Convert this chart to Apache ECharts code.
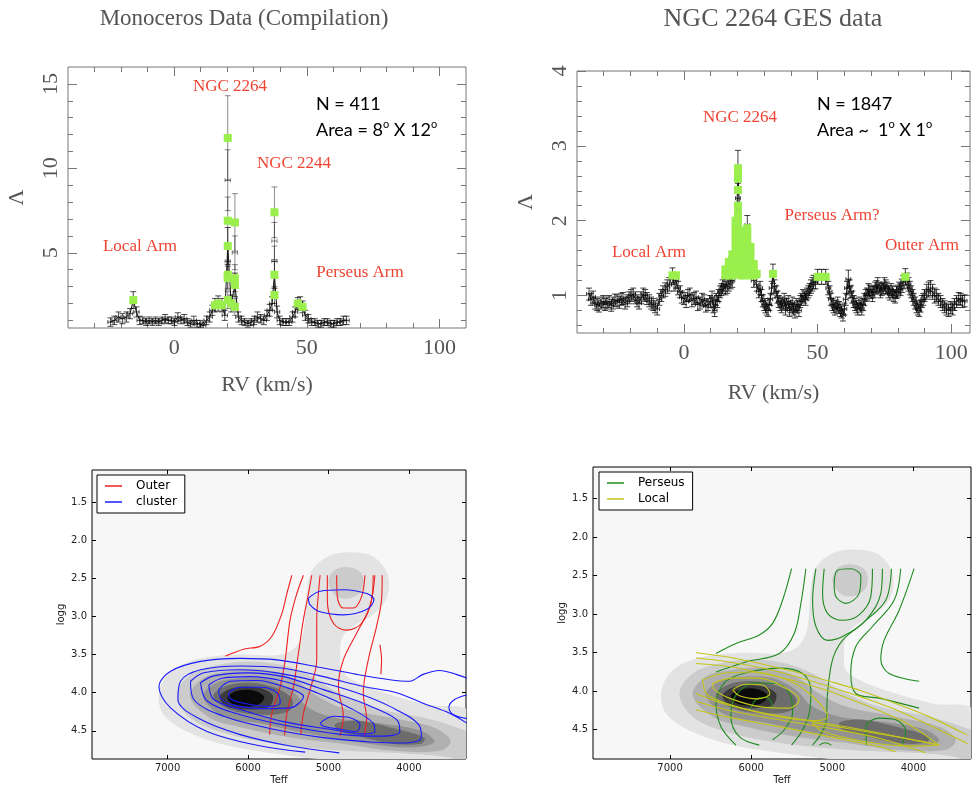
<!DOCTYPE html>
<html><head><meta charset="utf-8">
<script src="https://cdn.jsdelivr.net/npm/echarts@6/dist/echarts.min.js"></script>
<style>html,body{margin:0;padding:0;background:#fff}#c{width:972px;height:787px}</style>
</head><body><div id="c"></div>
<script>
// ---------------- Top-left: Monoceros compilation  [RV, Lambda, err] ----------------
const tlPoints = [[-24,0.9,0.25],[-22.5,1.0,0.25],[-21,1.2,0.3],[-19.5,1.1,0.3],[-18,1.2,0.3],[-16.6,1.4,0.3],[-15.4,2.2,0.5],[-14.2,1.5,0.3],[-13,1.0,0.25],[-11.8,1.0,0.2],[-10.6,0.9,0.2],[-9.4,1.0,0.2],[-8.2,0.9,0.2],[-7,1.0,0.2],[-5.8,0.9,0.2],[-4.6,1.0,0.2],[-3.4,1.1,0.25],[-2.2,1.0,0.2],[-1,1.0,0.2],[0.2,0.9,0.2],[1.4,1.2,0.25],[2.6,1.0,0.2],[3.8,1.1,0.25],[5,0.9,0.2],[6.2,0.8,0.2],[7.4,1.0,0.25],[8.6,0.8,0.2],[9.8,0.8,0.2],[11,0.7,0.2],[12.2,1.0,0.25],[13.4,1.2,0.3],[14.4,1.6,0.3],[15.4,1.9,0.4],[16.6,2.0,0.45],[18,1.9,0.4],[19.1,1.3,0.3],[20.2,5.4,1.1],[21.5,2.0,0.5],[22.9,3.1,0.7],[24.2,1.2,0.3],[25.4,1.0,0.25],[26.6,0.9,0.2],[27.8,0.8,0.2],[29,0.9,0.2],[30.2,1.0,0.25],[31.4,1.2,0.3],[32.6,1.1,0.25],[33.8,1.0,0.25],[35,1.3,0.3],[36,1.6,0.35],[36.9,2.0,0.4],[37.8,3.7,0.8],[38.8,1.5,0.35],[39.8,1.0,0.25],[41,0.9,0.2],[42.2,0.9,0.2],[43.4,0.9,0.2],[44.6,1.2,0.3],[45.6,1.5,0.3],[46.6,2.0,0.35],[47.5,2.0,0.4],[48.4,1.8,0.35],[49.4,1.3,0.3],[50.6,1.1,0.25],[51.8,0.9,0.2],[53,0.9,0.2],[54.2,0.8,0.2],[55.4,0.8,0.2],[56.6,0.9,0.2],[57.8,0.9,0.2],[59,0.8,0.2],[60.2,0.8,0.2],[61.4,0.9,0.2],[62.6,0.9,0.2],[63.8,1.0,0.25],[65,1.0,0.25]];
const tlSpikes = [[20.2,11.8,2.5],[20.2,9.3,1.8],[20.2,6.9,1.4],[20.2,4.5,0.9],[20.2,3.7,0.8],[20.2,3.5,0.7],[20.2,2.2,0.5],[22.9,6.8,1.7],[22.9,5.0,1.0],[22.9,3.5,0.8],[22.9,1.8,0.5],[37.8,7.4,1.5],[37.8,5.7,1.1],[37.8,4.5,0.9],[37.8,2.5,0.5]];
const tlGreen = [[-15.4,2.2],[15.4,1.9],[16.6,2.0],[18,1.9],[20.2,11.8],[20.2,6.9],[20.2,5.4],[20.2,3.7],[20.2,3.5],[20.2,2.2],[21.5,2.0],[22.9,6.8],[22.9,3.5],[22.9,3.1],[22.9,1.8],[37.8,7.4],[37.8,3.7],[37.8,2.5],[46.6,2.0],[48.4,1.8]];
const tlXMajor = [0,50,100];
const tlXMinor = [-30,-20,-10,0,10,20,30,40,50,60,70,80,90,100];
const tlYMajor = [5,10,15];
const tlYMinor = [1,2,3,4,5,6,7,8,9,10,11,12,13,14,15];

// ---------------- Top-right: NGC 2264 GES  [RV, Lambda, err] ----------------
const trPoints = [[-35.5,1.02,0.08],[-34,0.98,0.08],[-32.5,0.88,0.08],[-31,0.90,0.08],[-29.5,0.88,0.08],[-28,0.92,0.08],[-26.5,0.90,0.08],[-25,0.93,0.08],[-23.5,0.95,0.08],[-22,0.90,0.08],[-20.5,0.97,0.08],[-19,1.02,0.08],[-17.5,0.93,0.08],[-16,0.97,0.08],[-14.5,1.00,0.08],[-13,0.93,0.08],[-11.5,0.88,0.08],[-10,0.82,0.08],[-8.5,1.00,0.08],[-7,1.08,0.09],[-5.5,1.15,0.09],[-4.3,1.27,0.1],[-3,1.20,0.1],[-1.5,1.05,0.08],[0,0.96,0.08],[1.5,1.00,0.08],[3,0.93,0.08],[4.5,0.98,0.08],[6,0.90,0.08],[7.5,0.93,0.08],[9,0.88,0.08],[10.5,0.98,0.08],[11.5,0.80,0.08],[12.5,0.92,0.08],[13.5,1.05,0.08],[14.5,1.12,0.09],[15.5,1.10,0.09],[16.8,1.15,0.09],[18.1,1.20,0.09],[19.3,1.35,0.1],[20.2,2.72,0.22],[21.3,1.60,0.1],[22.5,1.50,0.1],[23.7,1.94,0.13],[24.9,1.40,0.1],[26.1,1.20,0.09],[27.2,1.15,0.09],[28.5,1.10,0.09],[29.5,0.93,0.08],[30.5,0.85,0.08],[31.5,0.80,0.08],[32.3,0.95,0.08],[33.3,1.29,0.13],[34.5,1.05,0.08],[35.5,0.92,0.08],[36.5,0.85,0.08],[37.5,0.95,0.08],[38.5,0.88,0.08],[39.5,0.80,0.08],[40.5,0.90,0.08],[41.5,0.78,0.08],[42.5,0.85,0.08],[43.5,0.92,0.08],[44.5,1.00,0.08],[45.5,0.95,0.08],[46.5,1.05,0.08],[47.5,1.12,0.09],[48.5,1.18,0.09],[50,1.25,0.1],[51.5,1.25,0.1],[53,1.25,0.1],[54.5,1.05,0.08],[55.5,0.88,0.08],[56.5,0.82,0.08],[57.5,0.90,0.08],[58.5,0.80,0.08],[59.5,0.74,0.08],[60.5,0.95,0.08],[61.5,1.22,0.12],[62.5,1.05,0.08],[63.5,0.92,0.08],[64.5,0.85,0.08],[65.5,0.90,0.08],[66.5,0.82,0.08],[67.5,0.95,0.08],[68.5,1.02,0.08],[69.5,1.06,0.08],[70.5,1.00,0.08],[71.5,1.10,0.08],[72.5,1.15,0.09],[73.5,1.05,0.08],[74.5,1.10,0.08],[75.5,1.12,0.09],[76.5,1.05,0.08],[77.5,1.08,0.08],[78.5,1.00,0.08],[79.5,1.04,0.08],[80.5,1.10,0.08],[81.5,1.13,0.09],[82.8,1.25,0.11],[84,1.15,0.09],[85,1.05,0.08],[86,0.95,0.08],[87,0.85,0.08],[88,0.80,0.08],[89,0.92,0.08],[90,1.00,0.08],[91.5,1.08,0.1],[93,1.05,0.1],[94.5,1.00,0.08],[96,0.92,0.08],[97.5,0.85,0.08],[99,0.80,0.08],[100.5,0.82,0.08],[102,0.92,0.08],[103.5,0.95,0.08],[105,0.93,0.08]];
const trPointsMid = [[-34.8,0.95,0.08],[-33.2,0.90,0.08],[-31.8,0.86,0.08],[-30.2,0.92,0.08],[-28.8,0.90,0.08],[-27.2,0.87,0.08],[-25.8,0.94,0.08],[-24.2,0.91,0.08],[-22.8,0.96,0.08],[-21.2,0.93,0.08],[-19.8,1.0,0.08],[-18.2,0.97,0.08],[-16.8,0.90,0.08],[-15.2,1.02,0.08],[-13.8,0.96,0.08],[-12.2,0.90,0.08],[-10.8,0.85,0.08],[-9.2,0.95,0.08],[-7.8,1.05,0.08],[-6.2,1.12,0.09],[-3.7,1.15,0.09],[-2.2,1.1,0.09],[-0.8,0.98,0.08],[0.8,0.92,0.08],[2.2,1.02,0.08],[3.8,0.96,0.08],[5.2,0.88,0.08],[6.8,0.95,0.08],[8.2,0.86,0.08],[9.8,0.92,0.08],[11,0.85,0.08],[12,0.95,0.08],[13,1.0,0.08],[14,1.08,0.08],[15,1.15,0.09],[16.2,1.12,0.09],[17.5,1.18,0.09],[28,1.05,0.08],[29,1.0,0.08],[30,0.88,0.08],[31,0.82,0.08],[31.9,0.88,0.08],[32.8,1.1,0.09],[33.9,1.12,0.09],[35,0.98,0.08],[36,0.88,0.08],[37,0.90,0.08],[38,0.82,0.08],[39,0.92,0.08],[40,0.85,0.08],[41,0.82,0.08],[42,0.88,0.08],[43,0.80,0.08],[44,0.95,0.08],[45,0.98,0.08],[46,1.02,0.08],[47,1.08,0.08],[48,1.15,0.09],[49.2,1.18,0.09],[54,1.1,0.09],[55,0.95,0.08],[56,0.85,0.08],[57,0.86,0.08],[58,0.84,0.08],[59,0.78,0.08],[60,0.82,0.08],[61,1.1,0.09],[62,1.12,0.09],[63,0.98,0.08],[64,0.88,0.08],[65,0.82,0.08],[66,0.86,0.08],[67,0.88,0.08],[68,1.0,0.08],[69,1.08,0.08],[70,1.04,0.08],[71,1.05,0.08],[72,1.12,0.08],[73,1.1,0.08],[74,1.08,0.08],[75,1.15,0.09],[76,1.1,0.08],[77,1.02,0.08],[78,1.05,0.08],[79,0.98,0.08],[80,1.06,0.08],[81,1.08,0.08],[82,1.18,0.09],[83.5,1.2,0.1],[84.5,1.1,0.09],[85.5,1.0,0.08],[86.5,0.9,0.08],[87.5,0.82,0.08],[88.5,0.86,0.08],[89.5,0.95,0.08],[90.8,1.05,0.1],[92.2,1.1,0.1],[93.8,1.0,0.1],[95.2,0.95,0.08],[96.8,0.88,0.08],[98.2,0.82,0.08],[99.8,0.84,0.08],[101.2,0.88,0.08],[102.8,0.96,0.08],[104.2,0.92,0.08]];
const trSpikes = [[20.2,2.3,0.08],[20.2,2.05,0.06],[20.2,1.8,0.06]];
const trGreen = [[-4.3,1.27],[-3,1.27],[15.5,1.27],[15.5,1.35],[16.8,1.27],[16.8,1.37],[16.8,1.45],[18.1,1.27],[18.1,1.37],[18.1,1.47],[18.1,1.55],[19.3,1.3],[19.3,1.4],[19.3,1.5],[19.3,1.6],[19.3,1.7],[19.3,1.8],[19.3,1.9],[19.3,2.0],[20.2,1.3],[20.2,1.4],[20.2,1.5],[20.2,1.6],[20.2,1.7],[20.2,1.8],[20.2,1.9],[20.2,2.0],[20.2,2.09],[20.2,2.2],[20.2,2.41],[20.2,2.56],[20.2,2.63],[20.2,2.7],[21.3,1.27],[21.3,1.37],[21.3,1.47],[21.3,1.57],[21.3,1.67],[21.3,1.77],[21.3,1.83],[22.5,1.27],[22.5,1.37],[22.5,1.47],[22.5,1.57],[22.5,1.67],[22.5,1.77],[22.5,1.87],[23.7,1.3],[23.7,1.4],[23.7,1.5],[23.7,1.6],[23.7,1.7],[23.7,1.8],[23.7,1.9],[24.9,1.27],[24.9,1.37],[24.9,1.47],[24.9,1.57],[24.9,1.65],[26.1,1.27],[26.1,1.35],[26.1,1.42],[27.2,1.29],[33.3,1.29],[50,1.25],[51.5,1.25],[53,1.25],[82.8,1.25]];
const trXMajor = [0,50,100];
const trXMinor = [-30,-20,-10,0,10,20,30,40,50,60,70,80,90,100];
const trYMajor = [1,2,3,4];
const trYMinor = [0.6,0.8,1,1.2,1.4,1.6,1.8,2,2.2,2.4,2.6,2.8,3,3.2,3.4,3.6,3.8,4];

// ---------------- Bottom: KDE background (Teff, logg) ----------------
const kdeA = [[7111,4.03],[7008,3.77],[6803,3.62],[6475,3.53],[6064,3.50],[5654,3.51],[5449,3.44],[5326,3.25],[5285,2.95],[5264,2.64],[5202,2.39],[4997,2.21],[4710,2.16],[4423,2.23],[4259,2.47],[4279,2.77],[4464,2.99],[4710,3.14],[4833,3.29],[4854,3.51],[4833,3.72],[4628,3.87],[4217,4.03],[3766,4.16],[3250,4.25],[3250,4.95],[4012,4.95],[4833,4.9],[5654,4.8],[6269,4.69],[6762,4.51],[7049,4.29]];
const kdeBup = [[5000,2.55],[4950,2.42],[4850,2.36],[4720,2.36],[4600,2.42],[4560,2.55],[4600,2.68],[4720,2.76],[4850,2.76],[4950,2.68]];
const kdeB = [[6885,4.03],[6721,3.77],[6393,3.64],[5982,3.59],[5572,3.64],[5243,3.77],[4915,3.98],[4423,4.20],[3807,4.33],[3397,4.46],[3250,4.55],[3250,4.95],[3500,4.85],[4012,4.80],[4833,4.76],[5654,4.67],[6269,4.54],[6721,4.33]];
const kdeC = [[6721,4.05],[6557,3.81],[6228,3.72],[5818,3.70],[5449,3.81],[5161,4.03],[4833,4.20],[4217,4.33],[3684,4.46],[3479,4.63],[3602,4.76],[4217,4.76],[4833,4.67],[5449,4.59],[6064,4.46],[6475,4.33]];
const kdeD = [[6557,4.05],[6393,3.87],[6064,3.81],[5736,3.83],[5449,3.98],[5243,4.20],[4915,4.33],[4423,4.39],[3848,4.50],[3684,4.65],[4012,4.72],[4628,4.65],[5243,4.54],[5818,4.41],[6311,4.31]];
const kdeEcore = [[6434,4.05],[6269,3.91],[5982,3.87],[5654,3.94],[5449,4.09],[5490,4.24],[5818,4.29],[6228,4.22]];
const kdeEtail = [[4915,4.41],[4628,4.37],[4217,4.46],[3807,4.59],[3848,4.67],[4217,4.67],[4628,4.57],[4874,4.50]];
const kdeF = [[6352,4.05],[6187,3.94],[5900,3.93],[5695,4.03],[5736,4.18],[5982,4.22],[6269,4.18]];
const kdeG = [[6249,4.05],[6105,3.97],[5900,3.98],[5798,4.06],[5880,4.16],[6105,4.18],[6228,4.12]];

// Outer (red) contours
const outer1 = [[6281,3.52],[6054,3.43],[5848,3.39],[5703,3.26],[5579,2.96],[5517,2.70],[5455,2.46]];
const outer2 = [[5732,4.55],[5703,4.27],[5600,3.92],[5538,3.57],[5476,3.04],[5393,2.70],[5311,2.46]];
const outer3 = [[5546,4.56],[5517,4.27],[5435,3.92],[5373,3.48],[5311,3.04],[5249,2.70],[5208,2.46]];
const outer4 = [[5344,4.55],[5311,4.27],[5228,3.96],[5146,3.57],[5146,3.04],[5125,2.70],[5104,2.46]];
const outer5 = [[5014,2.46],[5014,2.78],[4939,3.09],[4774,3.18],[4588,3.09],[4464,2.78],[4444,2.46]];
const outer6 = [[4898,2.46],[4890,2.74],[4815,2.89],[4691,2.89],[4588,2.74],[4547,2.46]];
const outer7 = [[4857,4.57],[4815,4.31],[4877,3.92],[4815,3.57],[4650,3.22],[4485,2.87],[4423,2.46]];
const outer8 = [[4555,4.57],[4526,4.35],[4567,4.00],[4505,3.57],[4402,3.13],[4340,2.78],[4332,2.46]];
const outer9 = [[4361,3.37],[4340,3.57],[4349,3.76]];
// cluster (blue) contours
const cluster1 = [[5290,4.78],[5889,4.69],[6509,4.51],[6963,4.20],[7107,3.92],[6963,3.72],[6591,3.59],[6096,3.55],[5641,3.57],[5146,3.66],[4650,3.76],[4237,3.83],[3989,3.85],[3824,3.76],[3618,3.71],[3411,3.76],[3280,3.81]];
const cluster2 = [[4865,4.79],[5476,4.70],[6096,4.55],[6591,4.35],[6872,4.09],[6839,3.85],[6591,3.70],[6096,3.65],[5559,3.68],[5063,3.79],[4567,3.92],[4154,4.00],[3824,4.14],[3494,4.27],[3280,4.40]];
const cluster3 = [[6715,3.85],[6550,3.74],[6096,3.70],[5641,3.74],[5146,3.85],[4650,4.00],[4237,4.18],[3865,4.44],[3845,4.59],[4031,4.66],[4444,4.65],[5063,4.59],[5683,4.48],[6302,4.31],[6674,4.09],[6715,3.85]];
const cluster4 = [[6591,3.87],[6426,3.78],[6013,3.74],[5559,3.79],[5063,3.96],[4567,4.14],[4154,4.35],[4113,4.51],[4320,4.57],[4815,4.55],[5476,4.44],[6096,4.29],[6509,4.11],[6591,3.87]];
const cluster5 = [[6488,3.90],[6323,3.81],[5972,3.79],[5559,3.85],[5146,4.00],[4733,4.20],[4444,4.40],[4423,4.51],[4567,4.54],[4980,4.48],[5559,4.38],[6096,4.22],[6426,4.09],[6488,3.90]];
const cluster6 = [[6364,3.96],[6219,3.85],[5889,3.84],[5559,3.92],[5311,4.05],[5476,4.20],[5806,4.21],[6178,4.16],[6343,4.07],[6364,3.96]];
const cluster7 = [[6240,4.00],[6096,3.93],[5848,3.93],[5641,4.00],[5600,4.14],[5765,4.18],[6054,4.14],[6219,4.08],[6240,4.00]];
const cluster8 = [[5104,4.40],[4939,4.31],[4733,4.33],[4609,4.42],[4650,4.51],[4857,4.48],[5063,4.44],[5104,4.40]];
const cluster9 = [[5249,2.76],[5104,2.67],[4815,2.65],[4526,2.70],[4435,2.78],[4526,2.91],[4815,2.98],[5104,2.94],[5228,2.85],[5249,2.76]];
const cluster10 = [[3280,4.03],[3432,4.09],[3502,4.19],[3444,4.29],[3280,4.34]];
// Perseus (green) contours
const perseus1 = [[6434,3.51],[6187,3.38],[5900,3.27],[5736,3.12],[5613,2.82],[5502,2.41]];
const perseus2 = [[6434,3.75],[6064,3.62],[5654,3.51],[5469,3.25],[5387,2.86],[5326,2.41]];
const perseus3 = [[5202,2.41],[5243,2.82],[5202,3.16],[5059,3.34],[4874,3.29],[4587,3.08],[4402,2.73],[4382,2.41]];
const perseus4 = [[5100,2.41],[5120,2.73],[5059,2.99],[4874,3.08],[4669,3.01],[4525,2.77],[4505,2.41]];
const perseus5 = [[4977,2.62],[4936,2.43],[4772,2.41],[4648,2.51],[4669,2.73],[4833,2.86],[4956,2.77],[4977,2.62]];
const perseus6 = [[4271,2.41],[4341,2.82],[4628,3.12],[4874,3.34],[4997,3.59],[5059,4.03],[5079,4.41],[5243,4.70]];
const perseus7 = [[4156,2.41],[4238,2.82],[4505,3.16],[4710,3.42],[4772,3.77],[4710,4.03],[4423,4.09],[3930,4.22]];
const perseus8 = [[3992,2.41],[4176,2.95],[4361,3.34],[4402,3.59],[4300,3.77],[3930,3.87]];
const perseus9 = [[6187,4.70],[6372,4.46],[6434,4.16],[6311,3.87],[6023,3.75],[5654,3.70],[5367,3.77],[5264,3.98],[5285,4.29],[5387,4.54],[5502,4.70]];
const perseus10 = [[5900,4.70],[6146,4.59],[6249,4.33],[6187,4.05],[5941,3.89],[5654,3.91],[5510,4.07],[5490,4.29],[5592,4.50],[5736,4.63]];
const perseus11 = [[6003,4.22],[5941,4.11],[5839,4.08],[5756,4.13],[5744,4.22]];
const perseus12 = [[4579,4.70],[4587,4.46],[4423,4.35],[4217,4.37],[4094,4.52],[4144,4.70]];
const perseus13 = [[5161,4.70],[5088,4.67],[5010,4.70]];
// Local (yellow) contours
const local1 = [[6680,3.50],[6269,3.56],[5859,3.65],[5449,3.75],[5038,3.87],[4628,4.00],[4217,4.16],[3807,4.33],[3335,4.57]];
const local2 = [[6680,3.57],[6269,3.62],[5859,3.70],[5449,3.81],[5038,3.94],[4628,4.08],[4217,4.24],[3807,4.44],[3335,4.68]];
const local3 = [[6680,3.64],[6269,3.68],[5859,3.77],[5449,3.87],[5038,4.00],[4546,4.20],[4094,4.41],[3684,4.70]];
const local4 = [[6680,4.24],[6269,4.34],[5654,4.46],[5038,4.59],[4423,4.72],[4217,4.79]];
const local5 = [[6680,4.13],[6269,4.25],[5654,4.37],[5038,4.48],[4423,4.61],[3848,4.80]];
const local6 = [[6680,4.03],[6352,4.16],[5859,4.28],[5243,4.39],[4628,4.50],[4012,4.63],[3684,4.70]];
const local7 = [[6598,3.85],[6352,3.77],[5982,3.75],[5613,3.83],[5285,4.03],[5059,4.33],[5243,4.38],[5654,4.33],[6146,4.21],[6536,4.05],[6598,3.85]];
const local8 = [[6475,3.90],[6228,3.83],[5900,3.83],[5613,3.94],[5408,4.11],[5531,4.22],[5900,4.20],[6269,4.09],[6454,3.98],[6475,3.90]];
const local9 = [[6228,3.98],[6064,3.91],[5859,3.92],[5769,4.03],[5921,4.10],[6146,4.06],[6228,3.98]];
const local10 = [[5243,4.41],[4833,4.48],[4217,4.59],[3684,4.70],[4094,4.71],[4628,4.65],[5120,4.52],[5243,4.41]];
const bXTicks = [4000,5000,6000,7000];
const bYTicks = [1.5,2.0,2.5,3.0,3.5,4.0,4.5];

// ---------------- build ----------------
const SERIF = 'Liberation Serif';
const SANS = 'DejaVu Sans';
const RED = '#ee4433';
const LIME = '#9aef4c';
const FRAME = '#777';

function pgAxis(kind, gi, min, max, pos, ticks, len, labels, extra) {
  const a = {type:'value', gridIndex:gi, min, max, position:pos,
    axisLine:{show:false, onZero:false}, splitLine:{show:false},
    axisTick:{show:true, inside:true, length:len, customValues:ticks, lineStyle:{color:FRAME, width:1}},
    axisLabel:{show:!!labels, customValues:labels || ticks, color:'#555', fontFamily:SERIF, fontSize:22, margin:9,
      formatter: v => String(Math.round(v*100)/100)}};
  if (kind === 'y') { a.axisLabel.rotate = 90; a.axisLabel.margin = 6; }
  return Object.assign(a, extra || {});
}
function mplAxis(kind, gi, min, max, pos, ticks, labels, extra) {
  const a = {type:'value', gridIndex:gi, min, max, position:pos, inverse:true,
    axisLine:{show:false, onZero:false}, splitLine:{show:false},
    axisTick:{show:true, inside:true, length:4, customValues:ticks, lineStyle:{color:'#000', width:1}},
    axisLabel:{show:labels, customValues:ticks, color:'#222', fontFamily:SANS, fontSize:10, margin:kind==='x'?4:5,
      formatter: v => kind==='y' ? v.toFixed(1) : String(v)}};
  return Object.assign(a, extra || {});
}
const xNameStyle = {fontFamily:SERIF, fontSize:22, color:'#555'};

const xAxes = [
  pgAxis('x',0,-40,110,'bottom',tlXMajor,9,tlXMajor,{name:'RV (km/s)', nameLocation:'middle', nameGap:46, nameTextStyle:xNameStyle}),
  pgAxis('x',0,-40,110,'bottom',tlXMinor,5,null),
  pgAxis('x',0,-40,110,'top',tlXMajor,9,null),
  pgAxis('x',0,-40,110,'top',tlXMinor,5,null),
  pgAxis('x',1,-40,107,'bottom',trXMajor,9,trXMajor,{name:'RV (km/s)', nameLocation:'middle', nameGap:49, nameTextStyle:xNameStyle}),
  pgAxis('x',1,-40,107,'bottom',trXMinor,5,null),
  pgAxis('x',1,-40,107,'top',trXMajor,9,null),
  pgAxis('x',1,-40,107,'top',trXMinor,5,null),
  mplAxis('x',2,3290,7940,'bottom',bXTicks,true,{name:'Teff', nameLocation:'middle', nameGap:16, nameTextStyle:{fontFamily:SANS, fontSize:10, color:'#222'}}),
  mplAxis('x',2,3290,7940,'top',bXTicks,false),
  mplAxis('x',3,3290,7950,'bottom',bXTicks,true,{name:'Teff', nameLocation:'middle', nameGap:16, nameTextStyle:{fontFamily:SANS, fontSize:10, color:'#222'}}),
  mplAxis('x',3,3290,7950,'top',bXTicks,false)
];
const yAxes = [
  pgAxis('y',0,0.55,16,'left',tlYMajor,9,tlYMajor,{name:'Λ', nameLocation:'middle', nameGap:40, nameRotate:90, nameTextStyle:{fontFamily:SERIF, fontSize:22, color:'#555'}}),
  pgAxis('y',0,0.55,16,'left',tlYMinor,5,null),
  pgAxis('y',0,0.55,16,'right',tlYMajor,9,null),
  pgAxis('y',0,0.55,16,'right',tlYMinor,5,null),
  pgAxis('y',1,0.5,4,'left',trYMajor,9,trYMajor,{name:'Λ', nameLocation:'middle', nameGap:40, nameRotate:90, nameTextStyle:{fontFamily:SERIF, fontSize:22, color:'#555'}}),
  pgAxis('y',1,0.5,4,'left',trYMinor,5,null),
  pgAxis('y',1,0.5,4,'right',trYMajor,9,null),
  pgAxis('y',1,0.5,4,'right',trYMinor,5,null),
  mplAxis('y',2,1.08,4.87,'left',bYTicks,true,{name:'logg', nameLocation:'middle', nameGap:26, nameTextStyle:{fontFamily:SANS, fontSize:10, color:'#222'}}),
  mplAxis('y',2,1.08,4.87,'right',bYTicks,false),
  mplAxis('y',3,1.09,4.88,'left',bYTicks,true,{name:'logg', nameLocation:'middle', nameGap:26, nameTextStyle:{fontFamily:SANS, fontSize:10, color:'#222'}}),
  mplAxis('y',3,1.09,4.88,'right',bYTicks,false)
];

function errSeries(xi, yi, rows, xerr, color) {
  return {type:'custom', xAxisIndex:xi, yAxisIndex:yi, clip:true, z:2, silent:true, animation:false,
    data: rows, encode:{x:0, y:1},
    renderItem: function (params, api) {
      const x = api.value(0), y = api.value(1), e = api.value(2);
      const p = api.coord([x, y]), lo = api.coord([x, y - e]), hi = api.coord([x, y + e]);
      const l = api.coord([x - xerr, y]), r = api.coord([x + xerr, y]);
      const c = 3, h = 2;
      const seg = (x1, y1, x2, y2) => ({type:'line', shape:{x1, y1, x2, y2}, style:{stroke:color, lineWidth:1}});
      return {type:'group', children:[
        seg(lo[0], lo[1], hi[0], hi[1]),
        seg(lo[0]-c, lo[1], lo[0]+c, lo[1]),
        seg(hi[0]-c, hi[1], hi[0]+c, hi[1]),
        seg(l[0], p[1], r[0], p[1]),
        seg(l[0], p[1]-h, l[0], p[1]+h),
        seg(r[0], p[1]-h, r[0], p[1]+h)
      ]};
    }};
}
function traceSeries(xi, yi, rows) {
  const pts = rows.map(r => [r[0], r[1]]).sort((a, b) => a[0] - b[0]);
  return {type:'line', xAxisIndex:xi, yAxisIndex:yi, data: pts, showSymbol:false, symbol:'none',
    lineStyle:{color:'#111', width:1}, z:3, silent:true, animation:false};
}
function greenSeries(xi, yi, rows) {
  return {type:'scatter', xAxisIndex:xi, yAxisIndex:yi, data: rows, symbol:'rect', symbolSize:[8,8],
    itemStyle:{color:LIME, opacity:1}, z:4, silent:true, animation:false};
}
const kdeLevels = [
  {poly:kdeA, color:'#e3e3e3'}, {poly:kdeBup, color:'#cbcbcb'}, {poly:kdeB, color:'#cccccc'},
  {poly:kdeC, color:'#b0b0b0'}, {poly:kdeD, color:'#929292'}, {poly:kdeEcore, color:'#6c6c6c'},
  {poly:kdeEtail, color:'#6c6c6c'}, {poly:kdeF, color:'#3a3a3a'}, {poly:kdeG, color:'#0a0a0a'}
];
function kdeSeries(xi, yi) {
  return {type:'custom', xAxisIndex:xi, yAxisIndex:yi, clip:true, silent:true, z:1, animation:false,
    data: kdeLevels.map(lv => [lv.poly[0][0], lv.poly[0][1]]),
    encode:{x:0, y:1},
    renderItem: function (params, api) {
      const lv = kdeLevels[params.dataIndex];
      const pts = lv.poly.map(p => api.coord(p));
      return {type:'polygon', shape:{points:pts, smooth:0.35}, style:{fill:lv.color, lineWidth:0}};
    }};
}
function contour(name, xi, yi, pts, color) {
  return {type:'line', name, xAxisIndex:xi, yAxisIndex:yi, data:pts, showSymbol:false, symbol:'none',
    smooth:0.35, color, lineStyle:{color, width:1.1}, z:3, silent:true, animation:false};
}

const trAll = trPoints.concat(trPointsMid);
const series = [
  errSeries(0, 0, tlPoints, 1.0, 'rgba(0,0,0,0.7)'),
  errSeries(0, 0, tlSpikes, 1.0, 'rgba(0,0,0,0.45)'),
  traceSeries(0, 0, tlPoints),
  greenSeries(0, 0, tlGreen),
  errSeries(4, 4, trAll, 0.9, 'rgba(0,0,0,0.75)'),
  errSeries(4, 4, trSpikes, 0.9, 'rgba(0,0,0,0.75)'),
  traceSeries(4, 4, trAll),
  greenSeries(4, 4, trGreen),
  kdeSeries(8, 8),
  kdeSeries(10, 10)
];
const RC = '#ee2020', BC = '#1a1aff', GC = '#1f8a1f', YC = '#c4c41a';
[outer1,outer2,outer3,outer4,outer5,outer6,outer7,outer8,outer9].forEach(p => series.push(contour('Outer', 8, 8, p, RC)));
[cluster1,cluster2,cluster3,cluster4,cluster5,cluster6,cluster7,cluster8,cluster9,cluster10].forEach(p => series.push(contour('cluster', 8, 8, p, BC)));
[perseus1,perseus2,perseus3,perseus4,perseus5,perseus6,perseus7,perseus8,perseus9,perseus10,perseus11,perseus12,perseus13].forEach(p => series.push(contour('Perseus', 10, 10, p, GC)));
[local1,local2,local3,local4,local5,local6,local7,local8,local9,local10].forEach(p => series.push(contour('Local', 10, 10, p, YC)));

function txt(x, y, text, font, fill, align) {
  return {type:'text', x, y, z:100, style:{text, font, fill, align:align||'center', verticalAlign:'middle', textAlign:align||'center', textVerticalAlign:'middle'}};
}
function richTxt(x, y, text) {
  return {type:'text', x, y, z:100, style:{text, fontFamily:'Lato', fontSize:18, fill:'#000', align:'left', verticalAlign:'middle',
    rich:{o:{fontFamily:'Lato', fontSize:11, fill:'#000', verticalAlign:'top', lineHeight:22, padding:[0,0,6,0]}}}};
}
const rFont = '17px "Liberation Serif"';
const graphic = [
  txt(244, 19, 'Monoceros Data (Compilation)', '23px "Liberation Serif"', '#555'),
  txt(773, 19, 'NGC 2264 GES data', '26px "Liberation Serif"', '#555'),
  txt(230, 87, 'NGC 2264', rFont, RED),
  txt(294, 164, 'NGC 2244', rFont, RED),
  txt(140, 247, 'Local Arm', rFont, RED),
  txt(360, 273, 'Perseus Arm', rFont, RED),
  txt(740, 118, 'NGC 2264', rFont, RED),
  txt(832, 216, 'Perseus Arm?', rFont, RED),
  txt(649, 253, 'Local Arm', rFont, RED),
  txt(922, 246, 'Outer Arm', rFont, RED),
  richTxt(316, 104, 'N = 411'),
  richTxt(316, 130, 'Area = 8{o|o} X 12{o|o}'),
  richTxt(817, 104, 'N = 1847'),
  richTxt(817, 130, 'Area ~  1{o|o} X 1{o|o}')
];

const legendBase = {orient:'vertical', icon:'rect', itemWidth:17, itemHeight:1.5, itemGap:4, padding:[5,8,5,8],
  backgroundColor:'#fff', borderColor:'#000', borderWidth:1, selectedMode:false,
  textStyle:{fontFamily:SANS, fontSize:12, color:'#000', padding:[0,0,0,9]}};
const chart = echarts.init(document.getElementById('c'), null, {renderer:'canvas'});
chart.setOption({
  backgroundColor:'#fff',
  animation:false,
  grid:[
    {left:68, top:67, width:398, height:261, show:true, borderColor:FRAME, borderWidth:1, backgroundColor:'#fff'},
    {left:577, top:71, width:393, height:262, show:true, borderColor:FRAME, borderWidth:1, backgroundColor:'#fff'},
    {left:92, top:470, width:374, height:289, show:true, borderColor:'#000', borderWidth:1, backgroundColor:'#f7f7f7'},
    {left:593, top:467, width:378, height:292, show:true, borderColor:'#000', borderWidth:1, backgroundColor:'#f7f7f7'}
  ],
  xAxis: xAxes,
  yAxis: yAxes,
  legend:[
    Object.assign({}, legendBase, {data:['Outer','cluster'], left:97, top:475}),
    Object.assign({}, legendBase, {data:['Perseus','Local'], left:599, top:472})
  ],
  graphic: graphic,
  series: series
});
</script></body></html>
